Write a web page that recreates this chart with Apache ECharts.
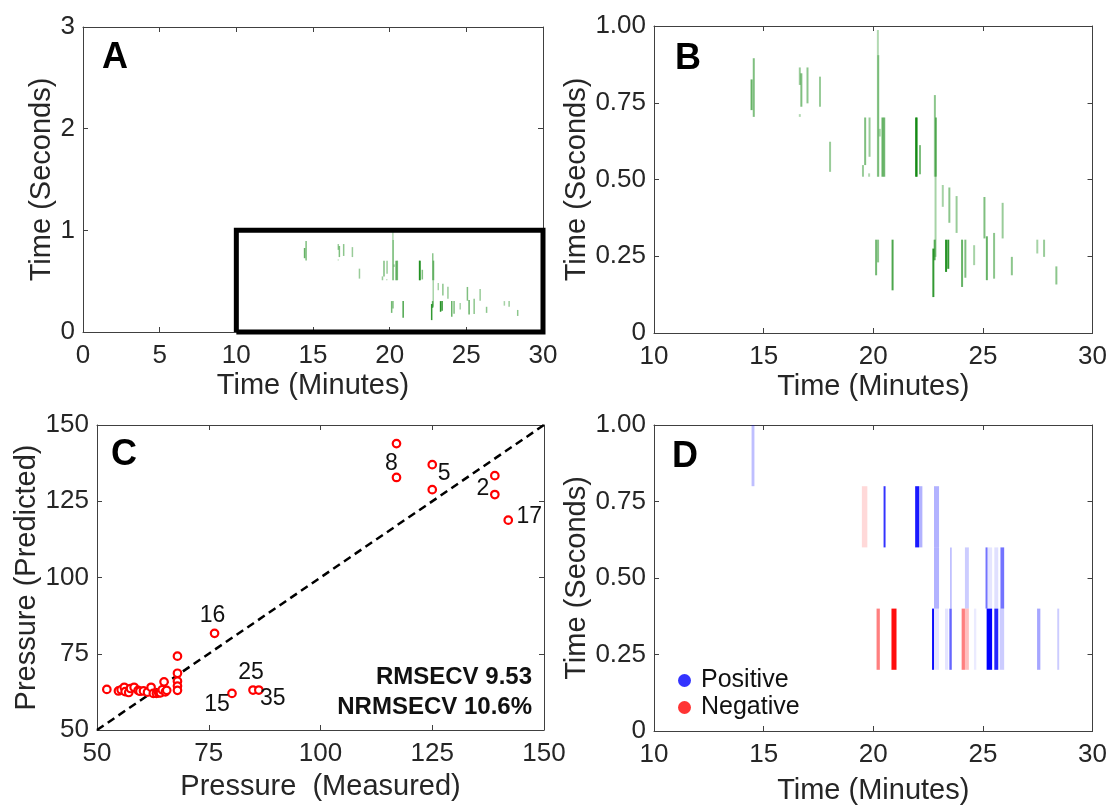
<!DOCTYPE html>
<html>
<head>
<meta charset="utf-8">
<script src="https://cdn.jsdelivr.net/npm/echarts@6/dist/echarts.min.js"></script>
<style>
  html, body { margin: 0; padding: 0; background: #fff; }
  #chart { width: 1110px; height: 806px; }
</style>
</head>
<body>
<div id="chart"></div>
<script>
// ---- Panels A & B: detected features (retention minute, start/end drift time in s, intensity) ----
const segMinute = [14.45, 14.55, 16.65, 16.72, 16.65, 17.00, 17.57, 18.03, 19.53, 19.63, 19.83, 19.81,
  20.21, 20.23, 20.30, 20.42, 20.50, 21.95, 21.99, 22.13, 22.81, 22.86, 22.84, 23.17, 23.47, 23.80,
  25.07, 25.90, 20.13, 20.22, 20.88, 22.74, 22.80, 23.32, 23.42, 24.05, 24.20, 24.60, 25.18, 25.51,
  26.32, 27.48, 27.79, 28.35];
const segStart = [0.726, 0.704, 0.808, 0.737, 0.704, 0.748, 0.737, 0.525, 0.509, 0.547, 0.574, 0.509,
  0.509, 0.509, 0.640, 0.509, 0.509, 0.509, 0.509, 0.517, 0.509, 0.509, 0.248, 0.411, 0.359, 0.326,
  0.308, 0.308, 0.188, 0.230, 0.139, 0.117, 0.237, 0.199, 0.209, 0.150, 0.180, 0.221, 0.172, 0.177,
  0.188, 0.259, 0.248, 0.158];
const segEnd = [0.826, 0.895, 0.865, 0.846, 0.713, 0.865, 0.835, 0.623, 0.547, 0.702, 0.702, 0.520,
  0.987, 0.905, 0.665, 0.702, 0.702, 0.702, 0.702, 0.612, 0.775, 0.702, 0.509, 0.482, 0.474, 0.446,
  0.443, 0.424, 0.304, 0.304, 0.304, 0.275, 0.304, 0.304, 0.304, 0.304, 0.304, 0.286, 0.315, 0.326,
  0.248, 0.304, 0.304, 0.217];
const segIntensity = [0.6, 0.5, 0.4, 0.5, 0.3, 0.45, 0.4, 0.4, 0.4, 0.5, 0.4, 0.3,
  0.3, 0.35, 0.3, 0.6, 0.55, 0.8, 0.6, 0.5, 0.45, 0.5, 0.35, 0.35, 0.45, 0.4,
  0.5, 0.4, 0.55, 0.45, 0.7, 0.8, 0.6, 0.85, 0.8, 0.6, 0.5, 0.35, 0.6, 0.45,
  0.45, 0.35, 0.4, 0.45];

// zoomed window shown in panel B (outlined in panel A)
const zoomMinutes = [10, 30];
const zoomSeconds = [0, 1];

// ---- Panel C: cross-validated pressure predictions ----
const measured = [117, 117, 125, 125, 139, 139, 142, 76.3, 80.2, 84.9, 86.2,
  52.2, 54.8, 55.4, 56.1, 56.3, 57.1, 57.5, 58.3, 59.2, 59.6, 60.4, 61.3, 62.1, 62.6, 63.3,
  63.8, 64.2, 64.6, 65.0, 65.3, 65.6, 68.0, 68.0, 68.0, 68.0, 68.0];
const predicted = [143.9, 132.8, 137.0, 128.8, 133.4, 127.2, 118.8, 81.7, 62.0, 63.1, 63.1,
  63.3, 62.8, 63.2, 64.0, 62.6, 62.3, 63.6, 64.0, 63.0, 62.7, 62.8, 62.4, 64.0, 62.0, 62.0,
  62.2, 62.2, 63.2, 65.8, 62.5, 63.0, 74.2, 68.6, 66.0, 64.4, 63.0];
const sampleId = ['', '8', '5', '', '', '2', '17', '16', '15', '25', '35'];
const identityRange = [50, 150];
const statLines = ['RMSECV 9.53', 'NRMSECV 10.6%'];

// ---- Panel D: regression coefficient regions (start/end minute, drift band, signed weight) ----
const regStart = [14.45, 19.48, 20.47, 21.91, 22.09, 22.77, 22.77, 23.50, 24.18, 25.12, 25.21, 25.52, 25.80,
  20.15, 20.83, 22.68, 22.77, 23.27, 23.47, 24.03, 24.18, 24.59, 25.17, 25.52, 25.77, 27.47, 28.39];
const regEnd = [14.58, 19.73, 20.56, 22.09, 22.24, 23.00, 23.00, 23.58, 24.36, 25.21, 25.42, 25.70, 25.97,
  20.30, 21.06, 22.77, 23.00, 23.42, 23.58, 24.18, 24.36, 24.70, 25.42, 25.70, 25.97, 27.62, 28.48];
const regBand = [0.8, 0.6, 0.6, 0.6, 0.6, 0.6, 0.4, 0.4, 0.4, 0.4, 0.4, 0.4, 0.4,
  0.2, 0.2, 0.2, 0.2, 0.2, 0.2, 0.2, 0.2, 0.2, 0.2, 0.2, 0.2, 0.2, 0.2];
const regWeight = [0.25, -0.15, 0.8, 0.9, 0.3, 0.3, 0.3, 0.25, 0.2, 0.55, 0.1, 0.12, 0.55,
  -0.5, -0.95, 0.95, 0.1, 0.1, 0.6, -0.5, -0.25, 0.08, 1.0, 0.85, 0.2, 0.35, 0.2];
const bandHeight = 0.2;
const legendNames = ['Positive', 'Negative'];

// ---- axis ticks ----
const ticksA_x = [0, 30, 5], ticksA_y = [0, 3, 1];
const ticksB_x = [10, 30, 5], ticksB_y = [0, 1, 0.25];
const ticksC = [50, 150, 25];

const FONT = "'Liberation Sans', Arial, sans-serif";
const AXIS_COLOR = '#404040';
const TEXT_COLOR = '#262626';

const grids = [
  { left: 83, top: 27, width: 460, height: 305 },   // A
  { left: 654, top: 26, width: 439, height: 307 },  // B
  { left: 97, top: 425, width: 447, height: 305 },  // C
  { left: 654, top: 425, width: 439, height: 312 }  // D
];

function fmtSec(v) { return v === 0 ? '0' : v.toFixed(2); }

const xAxes = [], yAxes = [];
function addAxes(gi, xt, yt, xName, yName, xGap, yGap, yFmt) {
  const common = {
    gridIndex: gi, splitLine: { show: false },
    axisLine: { show: true, onZero: false, lineStyle: { color: AXIS_COLOR, width: 1 } },
    axisTick: { show: true, inside: true, length: 5, lineStyle: { color: AXIS_COLOR } }
  };
  xAxes.push(Object.assign({}, common, {
    type: 'value', position: 'bottom', min: xt[0], max: xt[1], interval: xt[2],
    name: xName, nameLocation: 'middle', nameGap: xGap,
    nameTextStyle: { fontFamily: FONT, fontSize: 29, color: TEXT_COLOR },
    axisLabel: { fontFamily: FONT, fontSize: 26, color: TEXT_COLOR, margin: 11 }
  }));
  xAxes.push(Object.assign({}, common, {
    type: 'value', position: 'top', min: xt[0], max: xt[1], interval: xt[2],
    axisLabel: { show: false }
  }));
  yAxes.push(Object.assign({}, common, {
    type: 'value', position: 'left', min: yt[0], max: yt[1], interval: yt[2],
    name: yName, nameLocation: 'middle', nameGap: yGap, nameRotate: 90,
    nameTextStyle: { fontFamily: FONT, fontSize: 29, color: TEXT_COLOR },
    axisLabel: { fontFamily: FONT, fontSize: 26, color: TEXT_COLOR, margin: 8,
      formatter: yFmt || (v => String(v)) }
  }));
  yAxes.push(Object.assign({}, common, {
    type: 'value', position: 'right', min: yt[0], max: yt[1], interval: yt[2],
    axisLabel: { show: false }
  }));
}
addAxes(0, ticksA_x, ticksA_y, 'Time (Minutes)', 'Time (Seconds)', 39, 24);
addAxes(1, ticksB_x, ticksB_y, 'Time (Minutes)', 'Time (Seconds)', 39, 60, fmtSec);
addAxes(2, ticksC, ticksC, 'Pressure  (Measured)', 'Pressure (Predicted)', 42, 50);
addAxes(3, ticksB_x, ticksB_y, 'Time (Minutes)', 'Time (Seconds)', 45, 60, fmtSec);

const segData = segMinute.map((m, i) => [m, segStart[i], segEnd[i], segIntensity[i]]);

function segRenderer(width) {
  return function (params, api) {
    const p0 = api.coord([api.value(0), api.value(1)]);
    const p1 = api.coord([api.value(0), api.value(2)]);
    return {
      type: 'line',
      shape: { x1: p0[0], y1: p0[1], x2: p1[0], y2: p1[1] },
      style: { stroke: 'rgba(0,128,0,' + api.value(3) + ')', lineWidth: width }
    };
  };
}

const regData = regStart.map((s, i) => [s, regEnd[i], regBand[i], regBand[i] + bandHeight, regWeight[i]]);

const labelOffsets = {
  '8': [-5, -14], '5': [12, 9], '2': [-12, -6], '17': [21, -4],
  '16': [-2, -18], '15': [-15, 11], '25': [-2, -17], '35': [14, 9]
};
const scatterData = measured.map((m, i) => {
  const id = sampleId[i] || '';
  const item = { value: [m, predicted[i]], name: id };
  if (id) {
    item.label = {
      show: true, position: 'inside', offset: labelOffsets[id], formatter: id,
      fontFamily: FONT, fontSize: 23, color: '#111'
    };
  }
  return item;
});

const zoomBox = [
  [zoomMinutes[0], zoomSeconds[0]], [zoomMinutes[1], zoomSeconds[0]],
  [zoomMinutes[1], zoomSeconds[1]], [zoomMinutes[0], zoomSeconds[1]],
  [zoomMinutes[0], zoomSeconds[0]]
];

const option = {
  animation: false,
  backgroundColor: '#ffffff',
  grid: grids.map(g => Object.assign({ show: false, containLabel: false }, g)),
  xAxis: xAxes,
  yAxis: yAxes,
  legend: {
    data: legendNames, orient: 'vertical', left: 673, top: 663, itemGap: 2,
    icon: 'circle', itemWidth: 13, itemHeight: 13,
    textStyle: { fontFamily: FONT, fontSize: 25, color: '#111', padding: [0, 0, 0, 5] },
    selectedMode: false
  },
  graphic: [
    { type: 'text', x: 102, y: 58, style: { text: 'A', font: 'bold 36px ' + FONT, fill: '#000', textVerticalAlign: 'middle' } },
    { type: 'text', x: 675, y: 59, style: { text: 'B', font: 'bold 36px ' + FONT, fill: '#000', textVerticalAlign: 'middle' } },
    { type: 'text', x: 111, y: 455, style: { text: 'C', font: 'bold 36px ' + FONT, fill: '#000', textVerticalAlign: 'middle' } },
    { type: 'text', x: 672, y: 457, style: { text: 'D', font: 'bold 36px ' + FONT, fill: '#000', textVerticalAlign: 'middle' } },
    { type: 'text', x: 532, y: 677, style: { text: statLines[0], font: 'bold 24px ' + FONT, fill: '#111', textAlign: 'right', textVerticalAlign: 'middle' } },
    { type: 'text', x: 532, y: 707, style: { text: statLines[1], font: 'bold 24px ' + FONT, fill: '#111', textAlign: 'right', textVerticalAlign: 'middle' } }
  ],
  series: [
    {
      type: 'custom', xAxisIndex: 0, yAxisIndex: 0, data: segData,
      renderItem: segRenderer(1.5), clip: true, silent: true
    },
    {
      type: 'line', xAxisIndex: 0, yAxisIndex: 0, data: zoomBox, symbol: 'none',
      lineStyle: { color: '#000', width: 5, join: 'miter' }, clip: false, silent: true, z: 5
    },
    {
      type: 'custom', xAxisIndex: 2, yAxisIndex: 2, data: segData,
      renderItem: segRenderer(2), clip: true, silent: true
    },
    {
      type: 'line', xAxisIndex: 4, yAxisIndex: 4,
      data: [[identityRange[0], identityRange[0]], [identityRange[1], identityRange[1]]],
      symbol: 'none', lineStyle: { color: '#000', width: 2.5, type: [8, 5] }, silent: true, z: 2
    },
    {
      type: 'scatter', xAxisIndex: 4, yAxisIndex: 4, data: scatterData,
      symbol: 'circle', symbolSize: 7.5,
      itemStyle: { color: '#fff', borderColor: '#ff0000', borderWidth: 2.2, opacity: 1 },
      silent: true, z: 3
    },
    {
      type: 'custom', xAxisIndex: 6, yAxisIndex: 6, data: regData, silent: true, clip: true,
      renderItem: function (params, api) {
        const p0 = api.coord([api.value(0), api.value(3)]);
        const p1 = api.coord([api.value(1), api.value(2)]);
        const w = api.value(4);
        const col = w >= 0 ? 'rgba(0,0,255,' + w + ')' : 'rgba(255,0,0,' + (-w) + ')';
        return {
          type: 'rect',
          shape: { x: p0[0], y: p0[1], width: p1[0] - p0[0], height: p1[1] - p0[1] },
          style: { fill: col }
        };
      }
    },
    { name: legendNames[0], type: 'scatter', xAxisIndex: 6, yAxisIndex: 6, data: [], itemStyle: { color: '#0000ff' } },
    { name: legendNames[1], type: 'scatter', xAxisIndex: 6, yAxisIndex: 6, data: [], itemStyle: { color: '#ff0000' } }
  ]
};

const chart = echarts.init(document.getElementById('chart'), null, { renderer: 'canvas' });
chart.setOption(option);
</script>
</body>
</html>
